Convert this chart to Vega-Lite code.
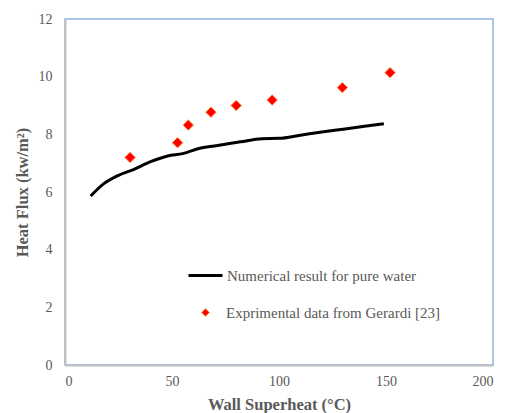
{
  "$schema": "https://vega.github.io/schema/vega-lite/v6.json",
  "autosize": {"type": "none"},
  "width": 428,
  "height": 346,
  "padding": {"left": 65, "top": 19, "right": 17, "bottom": 48},
  "background": "white",
  "config": {
    "view": {"stroke": "#8db4e2", "strokeWidth": 1.5},
    "font": "Liberation Serif",
    "axis": {
      "grid": false,
      "ticks": false,
      "zindex": 1,
      "domainColor": "#bfbfbf",
      "domainWidth": 2,
      "labelFontSize": 14,
      "labelColor": "#595959",
      "titleFontSize": 16.5,
      "titleFontWeight": "bold",
      "titleColor": "#595959"
    },
    "legend": {
      "labelFontSize": 15,
      "labelColor": "#595959",
      "labelLimit": 0,
      "padding": 0,
      "title": null
    }
  },
  "datasets": {
    "sim": [
      {"x": 12, "y": 5.86, "series": "Numerical result for pure water"},
      {"x": 18, "y": 6.28, "series": "Numerical result for pure water"},
      {"x": 25, "y": 6.58, "series": "Numerical result for pure water"},
      {"x": 32, "y": 6.78, "series": "Numerical result for pure water"},
      {"x": 40, "y": 7.05, "series": "Numerical result for pure water"},
      {"x": 48, "y": 7.25, "series": "Numerical result for pure water"},
      {"x": 55, "y": 7.33, "series": "Numerical result for pure water"},
      {"x": 63, "y": 7.52, "series": "Numerical result for pure water"},
      {"x": 72, "y": 7.62, "series": "Numerical result for pure water"},
      {"x": 82, "y": 7.74, "series": "Numerical result for pure water"},
      {"x": 92, "y": 7.85, "series": "Numerical result for pure water"},
      {"x": 100, "y": 7.86, "series": "Numerical result for pure water"},
      {"x": 110, "y": 7.97, "series": "Numerical result for pure water"},
      {"x": 120, "y": 8.08, "series": "Numerical result for pure water"},
      {"x": 130, "y": 8.18, "series": "Numerical result for pure water"},
      {"x": 140, "y": 8.28, "series": "Numerical result for pure water"},
      {"x": 149, "y": 8.37, "series": "Numerical result for pure water"}
    ],
    "exp": [
      {"x": 30.4, "y": 7.2, "series": "Exprimental data from Gerardi [23]"},
      {"x": 52.6, "y": 7.71, "series": "Exprimental data from Gerardi [23]"},
      {"x": 57.6, "y": 8.32, "series": "Exprimental data from Gerardi [23]"},
      {"x": 68.2, "y": 8.77, "series": "Exprimental data from Gerardi [23]"},
      {"x": 80.0, "y": 9.0, "series": "Exprimental data from Gerardi [23]"},
      {"x": 96.8, "y": 9.19, "series": "Exprimental data from Gerardi [23]"},
      {"x": 129.6, "y": 9.62, "series": "Exprimental data from Gerardi [23]"},
      {"x": 151.9, "y": 10.14, "series": "Exprimental data from Gerardi [23]"}
    ]
  },
  "encoding": {
    "x": {
      "field": "x", "type": "quantitative",
      "scale": {"domain": [0, 200], "nice": false},
      "axis": {"values": [0, 50, 100, 150, 200], "title": "Wall Superheat (°C)", "labelPadding": 9, "titlePadding": 8, "labelFont": "Liberation Serif", "titleFont": "Liberation Serif", "labelFontSize": 14, "labelColor": "#595959"}
    },
    "y": {
      "field": "y", "type": "quantitative",
      "scale": {"domain": [0, 12], "nice": false},
      "axis": {"values": [0, 2, 4, 6, 8, 10, 12], "title": "Heat Flux (kw/m²)", "labelPadding": 13, "titlePadding": 8, "labelFont": "Liberation Serif", "titleFont": "Liberation Serif", "labelFontSize": 14, "labelColor": "#595959"}
    }
  },
  "layer": [
    {
      "data": {"name": "sim"},
      "mark": {"type": "line", "strokeWidth": 3, "interpolate": "monotone"},
      "encoding": {
        "color": {
          "field": "series", "type": "nominal",
          "scale": {"range": ["black"]},
          "legend": {"orient": "none", "legendX": 122, "legendY": 238, "symbolType": "stroke", "symbolSize": 1156, "symbolStrokeWidth": 3, "labelOffset": 3, "labelFont": "Liberation Serif"}
        }
      }
    },
    {
      "data": {"name": "exp"},
      "mark": {"type": "point", "shape": "diamond", "filled": true, "size": 110, "stroke": "#f79646", "strokeWidth": 1, "opacity": 1},
      "encoding": {
        "color": {
          "field": "series", "type": "nominal",
          "scale": {"range": ["#ff0000"]},
          "legend": {"orient": "none", "legendX": 133, "legendY": 286, "symbolType": "diamond", "symbolSize": 60, "symbolStrokeColor": "#f79646", "symbolStrokeWidth": 1, "labelOffset": 13, "labelFont": "Liberation Serif"}
        }
      }
    }
  ],
  "resolve": {"scale": {"color": "independent"}, "legend": {"color": "independent"}}
}
